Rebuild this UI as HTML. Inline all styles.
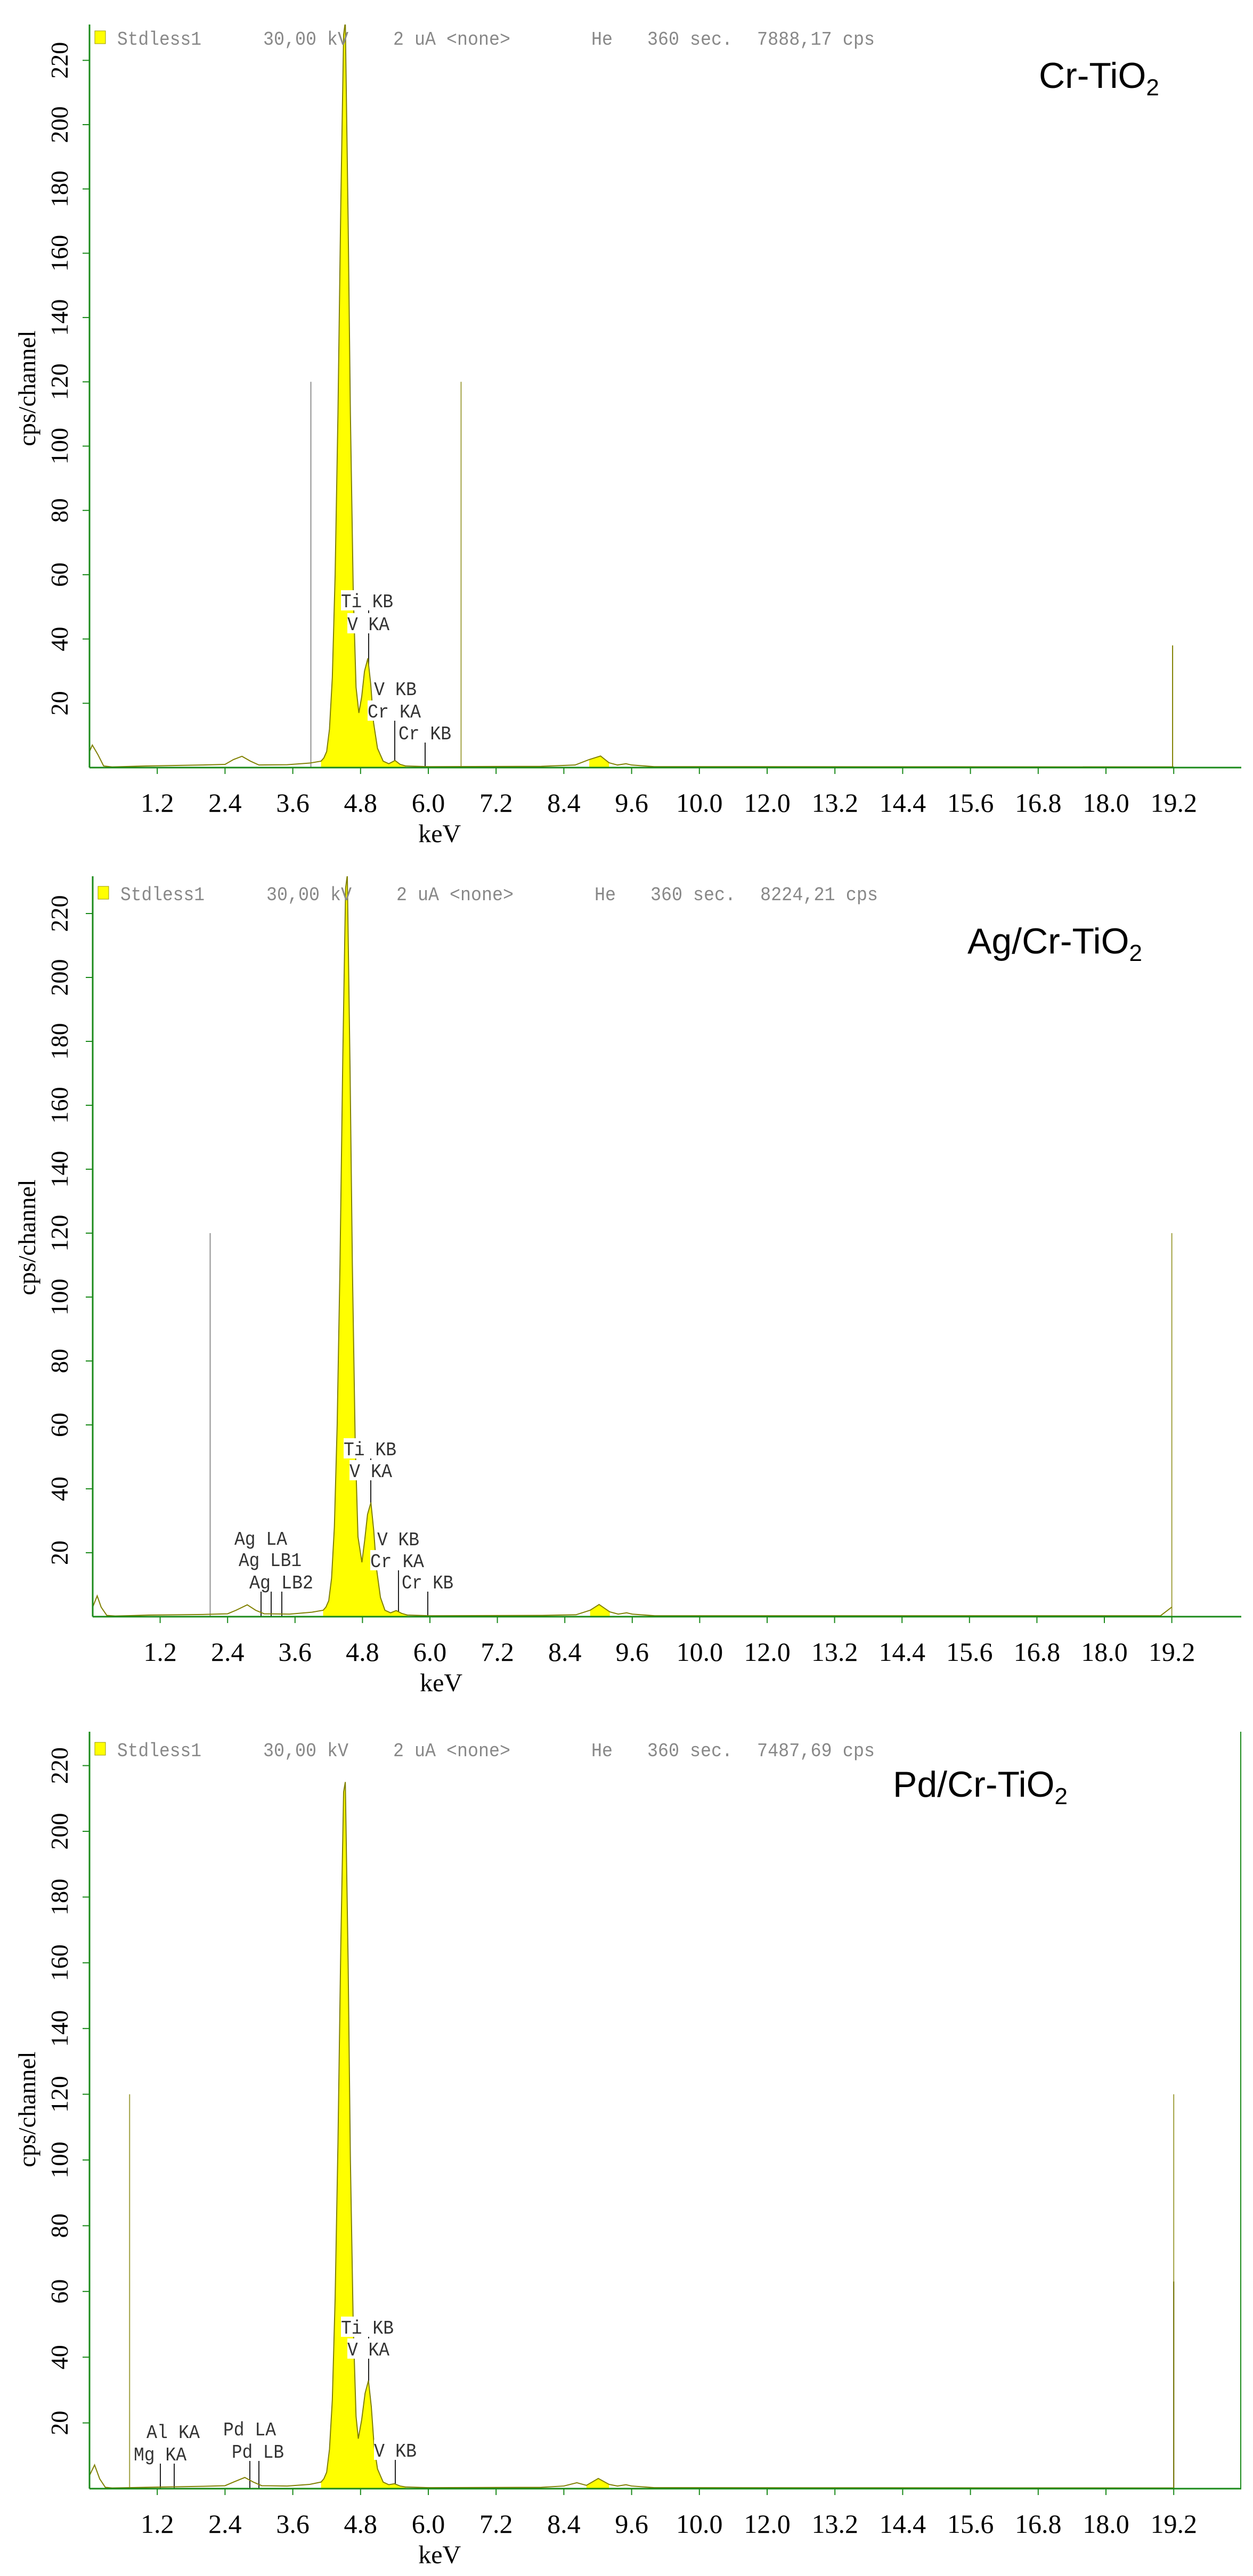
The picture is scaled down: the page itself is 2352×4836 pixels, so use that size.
<!DOCTYPE html>
<html><head><meta charset="utf-8"><style>
html,body{margin:0;padding:0;background:#fff;}
svg{display:block;}
.mono{font-family:"Liberation Mono",monospace;}
.serif{font-family:"Liberation Serif",serif;}
.sans{font-family:"Liberation Sans",sans-serif;}
</style></head><body>
<svg id="root" width="2352" height="4836" viewBox="0 0 2352 4836" xmlns="http://www.w3.org/2000/svg"></svg>
<script>
// ---- shared axis labels ----
const xTickLabels = ["1.2","2.4","3.6","4.8","6.0","7.2","8.4","9.6","10.0","12.0","13.2","14.4","15.6","16.8","18.0","19.2"];
const yTickLabels = ["20","40","60","80","100","120","140","160","180","200","220"];
const yTickValues = [20,40,60,80,100,120,140,160,180,200,220];

// ---- panel 1: Cr-TiO2 ----
const p1Kev = [0,0.05,0.15,0.25,0.4,1.0,2.0,2.4,2.55,2.7,2.85,3.0,3.5,3.9,4.1,4.15,4.2,4.25,4.3,4.35,4.4,4.45,4.5,4.53,4.58,4.62,4.67,4.72,4.77,4.82,4.87,4.93,4.98,5.03,5.1,5.2,5.3,5.41,5.5,5.6,6.0,8.0,8.6,8.85,9.05,9.2,9.35,9.5,9.6,10.0,19.2];
const p1Cps = [5,7,4,0.5,0.2,0.5,0.8,1.0,2.5,3.5,2,0.8,0.9,1.4,2,3,5,12,28,60,110,175,228,232,170,110,55,25,17,22,30,34,26,14,6,2,1.2,2.2,1,0.5,0.3,0.4,0.8,2.5,3.6,1.5,0.8,1.2,0.8,0.3,0.2];
const p1Markers = [{kev:3.92,cps:120,color:"#909090"},{kev:6.58,cps:120,color:"#a0a040"},{kev:19.18,cps:38,color:"#808000"}];

// ---- panel 2: Ag/Cr-TiO2 ----
const p2Kev = [0,0.08,0.15,0.25,0.4,1.0,2.0,2.4,2.55,2.75,2.9,3.05,3.5,3.9,4.1,4.15,4.2,4.25,4.3,4.35,4.4,4.45,4.5,4.53,4.58,4.62,4.67,4.72,4.79,4.84,4.89,4.95,5.0,5.05,5.12,5.2,5.3,5.4,5.5,5.6,6.0,8.0,8.6,8.85,9.01,9.2,9.35,9.5,9.6,10.0,19.0,19.2];
const p2Cps = [3,6.5,3,0.4,0.2,0.5,0.7,0.9,2,3.7,2,0.9,0.8,1.4,2,3,5,12,28,60,110,175,228,232,170,110,55,25,17,24,32,35.7,27,15,6,2,1.2,1.9,1,0.5,0.3,0.4,0.6,2,3.8,1.5,0.8,1.2,0.8,0.3,0.3,3];
const p2Markers = [{kev:2.09,cps:120,color:"#909090"},{kev:19.2,cps:120,color:"#a0a040"}];

// ---- panel 3: Pd/Cr-TiO2 ----
const p3Kev = [0,0.09,0.18,0.28,0.4,1.0,2.0,2.4,2.55,2.75,2.9,3.05,3.5,3.9,4.1,4.15,4.2,4.25,4.3,4.35,4.4,4.45,4.5,4.53,4.58,4.62,4.67,4.72,4.76,4.82,4.88,4.94,4.99,5.04,5.1,5.2,5.3,5.4,5.5,5.6,6.0,8.0,8.4,8.63,8.8,9.01,9.2,9.35,9.5,9.6,10.0,19.2];
const p3Cps = [4,7.2,3,0.4,0.2,0.4,0.7,0.9,2,3.4,2,0.9,0.8,1.3,2,3,5,12,27,58,105,165,212,215,160,100,50,22,15.2,21,29,32.9,25,13,6,2,1.2,1.5,0.8,0.5,0.3,0.4,0.8,1.8,1.0,3.1,1.3,0.8,1.2,0.8,0.3,0.2];
const p3Markers = [{kev:0.71,cps:120,color:"#a0a040"},{kev:19.2,cps:120,color:"#a0a040"},{kev:19.2,cps:63,color:"#707000"}];

const panels = [
 {id:"cr-tio2",x0:168,yb:1441,kx:106,ky:6.035,top:46,hdrY:70,cps:"7888,17 cps",title:"Cr-TiO",tx:1950,ty:165,kev:p1Kev,val:p1Cps,markers:p1Markers,rightBorder:false,
  ann:[{t:"Ti KB",x:640,y:1127,w:98},{t:"V KA",x:652,y:1170,w:79},{t:"V KB",x:702,y:1292,w:80},{t:"Cr KA",x:690,y:1334,w:100},{t:"Cr KB",x:748,y:1375,w:99}],
  lines:[{x:692,y1:1145},{x:741,y1:1350},{x:798,y1:1391}]},
 {id:"ag-cr-tio2",x0:174,yb:3035,kx:105.5,ky:6.0,top:1645,hdrY:1676,cps:"8224,21 cps",title:"Ag/Cr-TiO",tx:1816,ty:1790,kev:p2Kev,val:p2Cps,markers:p2Markers,rightBorder:false,
  ann:[{t:"Ti KB",x:645,y:2719,w:99},{t:"V KA",x:656,y:2760,w:80},{t:"V KB",x:708,y:2888,w:79},{t:"Cr KA",x:695,y:2929,w:101},{t:"Cr KB",x:754,y:2969,w:97},{t:"Ag LA",x:440,y:2887,w:99},{t:"Ag LB1",x:448,y:2927,w:118},{t:"Ag LB2",x:468,y:2969,w:120}],
  lines:[{x:696,y1:2737},{x:748,y1:2944},{x:803,y1:2984},{x:490,y1:2984},{x:509,y1:2984},{x:529,y1:2984}]},
 {id:"pd-cr-tio2",x0:168,yb:4672,kx:106,ky:6.17,top:3251,hdrY:3283,cps:"7487,69 cps",title:"Pd/Cr-TiO",tx:1676,ty:3373,kev:p3Kev,val:p3Cps,markers:p3Markers,rightBorder:true,
  ann:[{t:"Ti KB",x:640,y:4368,w:99},{t:"V KA",x:652,y:4409,w:79},{t:"V KB",x:702,y:4599,w:80},{t:"Al KA",x:275,y:4564,w:100},{t:"Mg KA",x:251,y:4606,w:99},{t:"Pd LA",x:419,y:4559,w:99},{t:"Pd LB",x:435,y:4601,w:98}],
  lines:[{x:692,y1:4386},{x:742,y1:4614},{x:301,y1:4621},{x:327,y1:4621},{x:469,y1:4616},{x:486,y1:4616}]}
];

const NS="http://www.w3.org/2000/svg";
const root=document.getElementById('root');
function mk(tag,attrs,parent){const e=document.createElementNS(NS,tag);for(const k in attrs)e.setAttribute(k,attrs[k]);(parent||root).appendChild(e);return e;}

panels.forEach((p,pi)=>{
  const g=mk('g',{});
  
  
  const X=k=>p.x0+k*p.kx, Y=v=>p.yb-v*p.ky;
  const clip=mk('clipPath',{id:'clip'+pi},g);
  mk('rect',{x:p.x0,y:p.top,width:2330-p.x0,height:p.yb-p.top+2},clip);
  // markers
  p.markers.forEach(m=>{
    const l=mk('line',{x1:X(m.kev),x2:X(m.kev),y1:p.yb,y2:Y(m.cps),stroke:m.color,'stroke-width':2},g);
    
    
  });
  // annotation lines
  p.lines.forEach(L=>{
    const l=mk('line',{x1:L.x,x2:L.x,y1:L.y1,y2:p.yb,stroke:'#222','stroke-width':2},g);
    
    
  });
  // fill
  const cg=mk('g',{'clip-path':'url(#clip'+pi+')'},g);
  let fpts=[];
  p.kev.forEach((k,i)=>{if(k>=3.95&&k<=5.7)fpts.push(X(k)+','+Y(p.val[i]));});
  const fk=p.kev.filter(k=>k>=3.95&&k<=5.7);
  fpts.unshift(X(fk[0])+','+p.yb); fpts.push(X(fk[fk.length-1])+','+p.yb);
  const fill=mk('polygon',{points:fpts.join(' '),fill:'#ffff00',stroke:'none'},cg);
  
  
  let f2=[];
  p.kev.forEach((k,i)=>{if(k>=8.8&&k<=9.25)f2.push(X(k)+','+Y(p.val[i]));});
  const f2k=p.kev.filter(k=>k>=8.8&&k<=9.25);
  f2.unshift(X(f2k[0])+','+p.yb); f2.push(X(f2k[f2k.length-1])+','+p.yb);
  const fill2=mk('polygon',{points:f2.join(' '),fill:'#ffff00',stroke:'none'},cg);
  
  
  const line=mk('polyline',{points:p.kev.map((k,i)=>X(k)+','+Y(p.val[i])).join(' '),fill:'none',stroke:'#808000','stroke-width':2},cg);
  
  
  // annotations
  p.ann.forEach(a=>{
    const r=mk('rect',{x:a.x,y:a.y-19,width:a.w,height:38,fill:'#fff'},g);
    
    
    const t=mk('text',{x:a.x,y:a.y+13,'font-size':36,fill:'#333',class:'mono',textLength:a.w,lengthAdjust:'spacingAndGlyphs'},g);
    t.textContent=a.t;
    
    
  });
  // axes
  const ya=mk('line',{x1:p.x0,x2:p.x0,y1:p.top,y2:p.yb,stroke:'#1a8a1a','stroke-width':3},g);
  
  
  const xa=mk('line',{x1:p.x0,x2:2330,y1:p.yb,y2:p.yb,stroke:'#1a8a1a','stroke-width':3},g);
  
  
  if(p.rightBorder){
    const rb=mk('line',{x1:2329,x2:2329,y1:p.top,y2:p.yb,stroke:'#1a8a1a','stroke-width':2},g);
    
    
  }
  xTickLabels.forEach((lab,i)=>{
    const kv=(i+1)*1.2;
    const tk=mk('line',{x1:X(kv),x2:X(kv),y1:p.yb,y2:p.yb+12,stroke:'#1a8a1a','stroke-width':2},g);
    
    
    const t=mk('text',{x:X(kv),y:p.yb+83,'font-size':50,'text-anchor':'middle',class:'serif',fill:'#000'},g);
    t.textContent=lab;
    
    
  });
  yTickValues.forEach((v,i)=>{
    const tk=mk('line',{x1:p.x0-13,x2:p.x0,y1:Y(v),y2:Y(v),stroke:'#1a8a1a','stroke-width':2},g);
    
    
    const t=mk('text',{x:0,y:0,'font-size':46,'text-anchor':'middle',class:'serif',fill:'#000',transform:'translate(127,'+Y(v)+') rotate(-90)'},g);
    t.textContent=yTickLabels[i];
    
    
  });
  const xt=mk('text',{x:X(6.2),y:p.yb+140,'font-size':48,'text-anchor':'middle',class:'serif',fill:'#000'},g);
  xt.textContent='keV';
  
  
  const yt=mk('text',{x:0,y:0,'font-size':46,'text-anchor':'middle',class:'serif',fill:'#000',transform:'translate(66,'+(p.yb-712)+') rotate(-90)'},g);
  yt.textContent='cps/channel';
  
  
  // header
  const sq=mk('rect',{x:p.x0+10,y:p.hdrY-12,width:20,height:24,fill:'#ffff00',stroke:'#999900','stroke-width':1},g);
  
  
  const hdr=[["Stdless1",52,158],["30,00 kV",326,160],["2 uA <none>",570,220],["He",942,40],["360 sec.",1047,160],[p.cps,1253,221]];
  hdr.forEach(h=>{
    const t=mk('text',{x:p.x0+h[1],y:p.hdrY+14,'font-size':36,class:'mono',fill:'#888',textLength:h[2],lengthAdjust:'spacingAndGlyphs'},g);
    t.textContent=h[0];
    
    
  });
  const tt=mk('text',{x:p.tx,y:p.ty,'font-size':68,class:'sans',fill:'#000'},g);
  tt.textContent=p.title;
  const sub=mk('tspan',{'font-size':44,dy:14},tt);
  sub.textContent='2';
  
  
});
</script>
</body></html>
